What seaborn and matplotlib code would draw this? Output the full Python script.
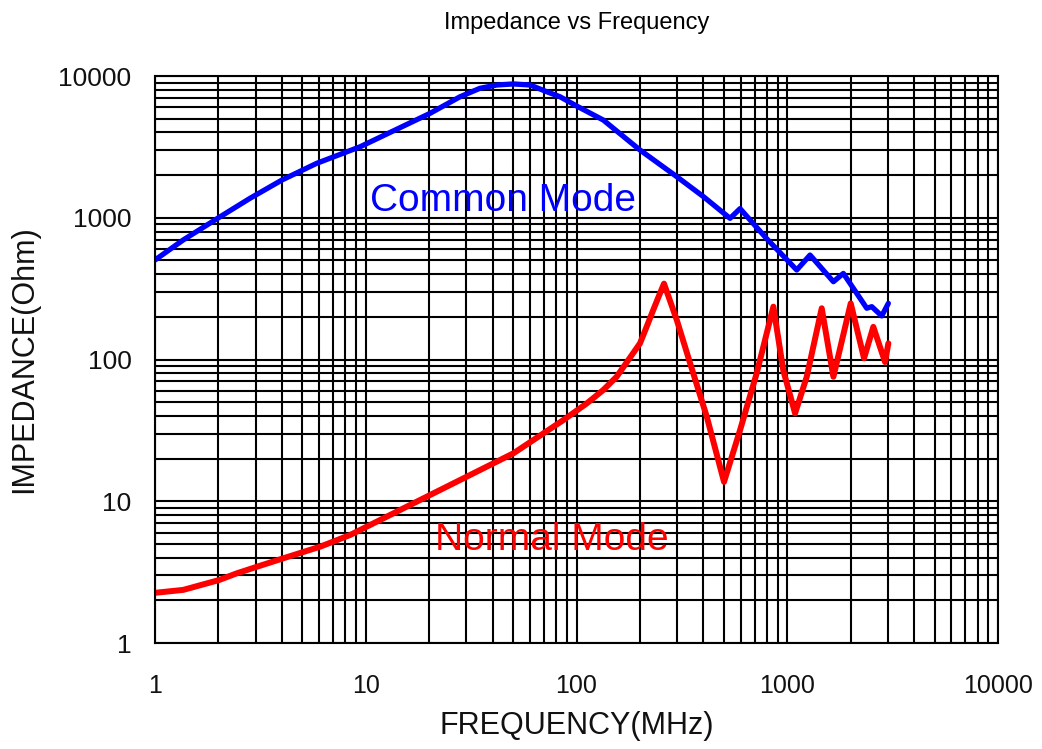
import matplotlib
matplotlib.use("Agg")
import matplotlib.pyplot as plt
import matplotlib.ticker as mticker
import pandas as pd
import seaborn as sns

# values (MHz, Ohm)
cm_freq = [1.0, 1.36, 2.0, 2.82, 4.0, 5.85, 9.4, 20.2, 28, 34.8, 41.8, 50.2, 60.2,
           72.2, 83.5, 100, 134, 200, 299, 400, 535, 597, 800, 1109, 1282, 1655,
           1845, 2383, 2517, 2806, 3017]
cm_imp = [504, 697, 1000, 1371, 1846, 2422, 3170, 5460, 7140, 8190, 8640, 8790, 8640,
          7750, 7140, 6150, 4890, 3006, 1950, 1410, 991, 1160, 710, 428, 546, 354,
          405, 230, 236, 203, 249]

nm_freq = [1.0, 1.36, 2.01, 2.44, 3.04, 4.06, 6.07, 8.42, 11.7, 18.8, 30.1, 50.2,
           86.6, 112, 134, 155, 200, 215, 231, 245, 260, 299, 346, 415, 501, 597,
           716, 859, 957, 1089, 1237, 1457, 1655, 2000, 2313, 2560, 2910, 3017]
nm_imp = [2.26, 2.37, 2.78, 3.1, 3.45, 3.96, 4.78, 5.78, 7.38, 10.5, 14.9, 21.8,
          37.4, 49.1, 61, 75.6, 130, 170, 223, 277, 343, 190, 94, 39.5, 13.7, 31.8,
          80, 236, 84, 41.7, 75.6, 230, 75.6, 249, 102, 170, 96, 130]

x_ticks = [1, 10, 100, 1000, 10000]
y_ticks = [1, 10, 100, 1000, 10000]

df = pd.concat([
    pd.DataFrame({"freq": cm_freq, "imp": cm_imp, "mode": "Common Mode"}),
    pd.DataFrame({"freq": nm_freq, "imp": nm_imp, "mode": "Normal Mode"}),
])

sns.set_theme(style="white")
plt.rcParams["font.family"] = ["Liberation Sans", "DejaVu Sans"]

fig = plt.figure(figsize=(10.42, 7.49), dpi=100)
ax = fig.add_axes([0.1488, 0.1415, 0.809, 0.757])
ax.set(xscale="log", yscale="log")

sns.lineplot(data=df[df["mode"] == "Common Mode"], x="freq", y="imp",
             color="#0000ff", linewidth=3.8, ax=ax, legend=False)
sns.lineplot(data=df[df["mode"] == "Normal Mode"], x="freq", y="imp",
             color="#ff0000", linewidth=4.3, ax=ax, legend=False)

ax.set_xlim(1, 10000)
ax.set_ylim(1, 10000)
ax.xaxis.set_major_locator(mticker.FixedLocator(x_ticks))
ax.yaxis.set_major_locator(mticker.FixedLocator(y_ticks))
ax.xaxis.set_minor_locator(mticker.LogLocator(base=10, subs=range(2, 10), numticks=20))
ax.yaxis.set_minor_locator(mticker.LogLocator(base=10, subs=range(2, 10), numticks=20))
ax.xaxis.set_major_formatter(mticker.FuncFormatter(lambda v, p: f"{v:g}"))
ax.yaxis.set_major_formatter(mticker.FuncFormatter(lambda v, p: f"{v:g}"))
ax.xaxis.set_minor_formatter(mticker.NullFormatter())
ax.yaxis.set_minor_formatter(mticker.NullFormatter())

ax.grid(True, which="both", color="black", linewidth=1.5)
ax.set_axisbelow(True)
for s in ax.spines.values():
    s.set_color("black")
    s.set_linewidth(1.5)
ax.tick_params(which="both", direction="out", length=3, width=1.2, color="black")
ax.tick_params(axis="x", which="major", labelsize=18, pad=19, labelcolor="#111111")
ax.tick_params(axis="y", which="major", labelsize=19, pad=14, labelcolor="#111111")

ax.set_xlabel("FREQUENCY(MHz)", fontsize=22, labelpad=10, color="#111111")
ax.set_ylabel("IMPEDANCE(Ohm)", fontsize=22, labelpad=14, color="#111111")
ax.set_title("Impedance vs Frequency", fontsize=17, pad=34, color="black")

ax.text(0.255, 0.78, "Common Mode", transform=ax.transAxes, color="#0000ff",
        fontsize=28, ha="left", va="center")
ax.text(0.3325, 0.182, "Normal Mode", transform=ax.transAxes, color="#ff0000",
        fontsize=28, ha="left", va="center")

fig.savefig("out.png", dpi=100)
